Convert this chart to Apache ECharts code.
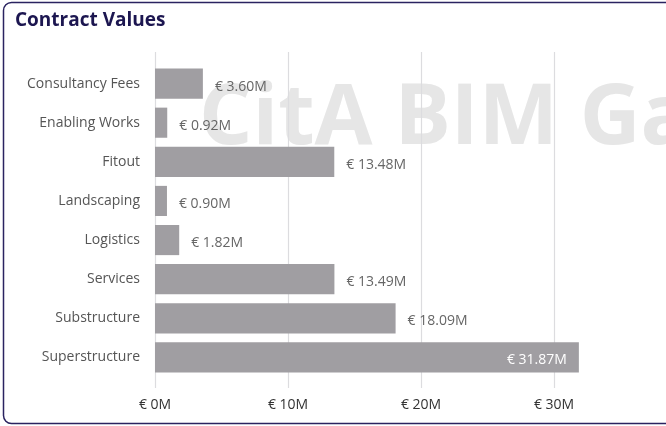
<!DOCTYPE html>
<html>
<head>
<meta charset="utf-8">
<script src="https://cdn.jsdelivr.net/npm/echarts@6/dist/echarts.min.js"></script>
<style>
  html, body { margin: 0; padding: 0; background: #fff; }
  #chart { width: 666px; height: 426px; }
</style>
</head>
<body>
<div id="chart"></div>
<script>
  // 数据
  var categories = ['Consultancy Fees', 'Enabling Works', 'Fitout', 'Landscaping', 'Logistics', 'Services', 'Substructure', 'Superstructure'];
  var values = [3.60, 0.92, 13.48, 0.90, 1.82, 13.49, 18.09, 31.87];
  var axisTicks = [0, 10, 20, 30];

  var barColor = '#a09ea2';
  var fontFamily = '"Open Sans", "Noto Sans", sans-serif';

  var chart = echarts.init(document.getElementById('chart'));

  // 最大值标签放在柱子内部
  var maxVal = Math.max.apply(null, values);
  var seriesData = values.map(function (v) {
    var item = { value: v };
    if (v === maxVal) {
      item.label = { position: 'insideRight', color: '#ffffff', distance: 12 };
    }
    return item;
  });

  chart.setOption({
    animation: false,
    graphic: [
      {
        type: 'text',
        z: -10,
        left: 199,
        top: 78,
        silent: true,
        style: {
          text: 'CitA BIM Gallery',
          fontSize: 84,
          fontWeight: 'bold',
          fontFamily: fontFamily,
          fill: '#e6e6e6'
        }
      },
      {
        type: 'rect',
        z: 100,
        silent: true,
        shape: { x: 3.5, y: 2.5, width: 720, height: 421, r: 8 },
        style: { fill: 'none', stroke: '#2a2360', lineWidth: 1.5 }
      },
      {
        type: 'text',
        left: 15,
        top: 11,
        style: {
          text: 'Contract Values',
          fontSize: 19,
          fontWeight: 'bold',
          fontFamily: fontFamily,
          fill: '#1c1650'
        }
      }
    ],
    grid: [
      { left: 155, right: -21, top: 52, bottom: 38, outerBoundsMode: 'none', containLabel: false },
      { left: 155, right: -21, top: 64, bottom: 49, outerBoundsMode: 'none', containLabel: false }
    ],
    xAxis: [
      {
        type: 'value',
        gridIndex: 0,
        min: axisTicks[0],
        max: 40,
        interval: 10,
        axisLine: { show: false },
        axisTick: { show: false },
        axisLabel: {
          margin: 10,
          color: '#333',
          fontSize: 14,
          fontFamily: fontFamily,
          formatter: function (v) {
            return axisTicks.indexOf(v) > -1 ? '€ ' + v + 'M' : '';
          }
        },
        splitLine: { lineStyle: { color: '#dcdcdf', width: 1.2 } }
      },
      {
        type: 'value',
        gridIndex: 1,
        min: 0,
        max: 40,
        show: false
      }
    ],
    yAxis: [
      {
        type: 'category',
        gridIndex: 0,
        show: false,
        data: categories
      },
      {
        type: 'category',
        gridIndex: 1,
        inverse: true,
        data: categories,
        axisLine: { show: false },
        axisTick: { show: false },
        axisLabel: {
          margin: 15,
          color: '#555',
          fontSize: 14,
          fontFamily: fontFamily,
          padding: [4, 0, 0, 0]
        }
      }
    ],
    series: [
      {
        name: 'Contract Value',
        type: 'bar',
        xAxisIndex: 1,
        yAxisIndex: 1,
        data: seriesData,
        barCategoryGap: '23%',
        itemStyle: { color: barColor },
        label: {
          show: true,
          position: 'right',
          distance: 12,
          offset: [0, 3],
          color: '#666',
          fontSize: 14,
          fontFamily: fontFamily,
          formatter: function (p) {
            return '€ ' + p.value.toFixed(2) + 'M';
          }
        }
      }
    ]
  });
</script>
</body>
</html>
